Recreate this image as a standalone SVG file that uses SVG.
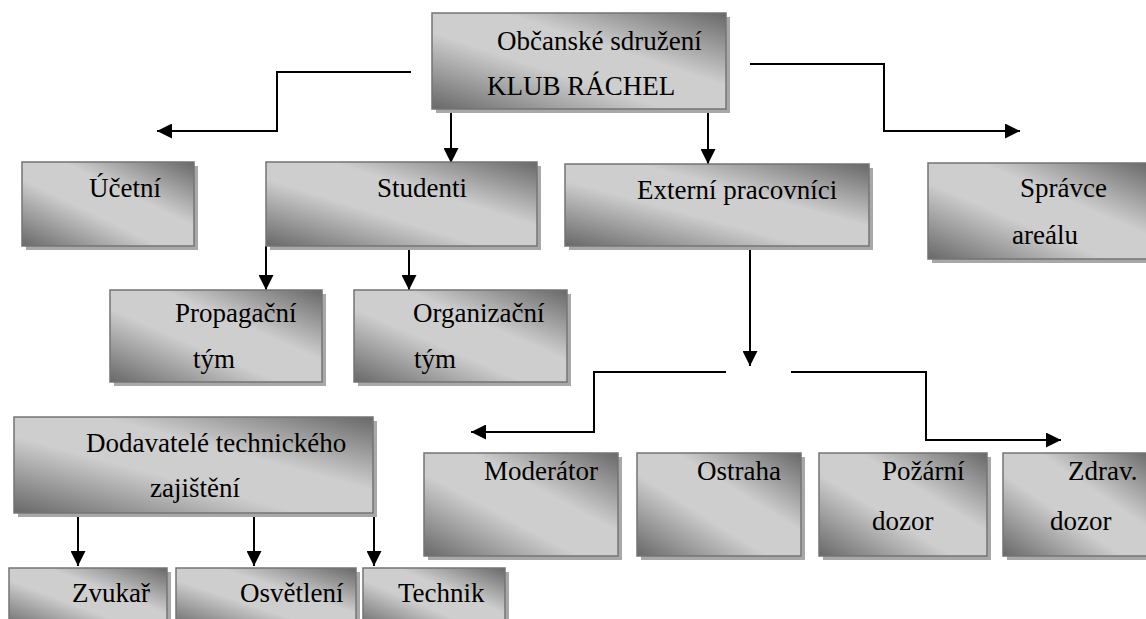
<svg xmlns="http://www.w3.org/2000/svg" width="1146" height="619" viewBox="0 0 1146 619">
  <defs>
    <!-- diagonal metallic fill: dark at top-right and bottom-left corners -->
    <linearGradient id="metal" x1="0" y1="1" x2="1" y2="0">
      <stop offset="0" stop-color="#686868"/>
      <stop offset="0.4" stop-color="#cecece"/>
      <stop offset="0.62" stop-color="#cecece"/>
      <stop offset="1" stop-color="#686868"/>
    </linearGradient>
    <marker id="arrow" viewBox="0 0 15 15" refX="15" refY="7.5" markerWidth="15" markerHeight="15" markerUnits="userSpaceOnUse" orient="auto">
      <path d="M0,0 L15,7.5 L0,15 Z" fill="#000"/>
    </marker>
  </defs>
  <style>
    .shadow { fill: #a8a8a8; }
    .box { fill: url(#metal); stroke: #747474; stroke-width: 1.5; }
    .lbl { font-family: "Liberation Serif", "Times New Roman", serif; font-size: 27px; fill: #000; }
    .conn { fill: none; stroke: #000; stroke-width: 2; }
    .arr { marker-end: url(#arrow); }
  </style>

  <rect width="1146" height="619" fill="#fff"/>

  <!-- connectors -->
  <g id="connectors">
    <path class="conn arr" d="M411,72 H277 V131 H157"/>
    <path class="conn arr" d="M451,110 V163"/>
    <path class="conn arr" d="M708,110 V164"/>
    <path class="conn arr" d="M750,64 H884 V131 H1020"/>
    <path class="conn arr" d="M266,246 V290"/>
    <path class="conn arr" d="M409,246 V290"/>
    <path class="conn arr" d="M750,247 V366"/>
    <path class="conn arr" d="M726,372 H594 V432 H471"/>
    <path class="conn arr" d="M791,372 H926 V440 H1061"/>
    <path class="conn arr" d="M78,513 V566"/>
    <path class="conn arr" d="M254,513 V566"/>
    <path class="conn arr" d="M374,513 V566"/>
  </g>

  <g id="klub-rachel">
    <rect class="shadow" x="436" y="17" width="294" height="96"/>
    <rect class="box" x="432" y="13" width="294" height="96"/>
    <text class="lbl" x="497" y="50">Občanské sdružení</text>
    <text class="lbl" x="487" y="95">KLUB RÁCHEL</text>
  </g>

  <g id="ucetni">
    <rect class="shadow" x="26" y="166" width="172" height="84"/>
    <rect class="box" x="22" y="162" width="172" height="84"/>
    <text class="lbl" x="89" y="197">Účetní</text>
  </g>

  <g id="studenti">
    <rect class="shadow" x="270" y="166" width="271" height="84"/>
    <rect class="box" x="266" y="162" width="271" height="84"/>
    <text class="lbl" x="377" y="197">Studenti</text>
  </g>

  <g id="externi-pracovnici">
    <rect class="shadow" x="569" y="168" width="304" height="82"/>
    <rect class="box" x="565" y="164" width="304" height="82"/>
    <text class="lbl" x="637" y="199">Externí pracovníci</text>
  </g>

  <g id="spravce-arealu">
    <rect class="shadow" x="932" y="167" width="220" height="96"/>
    <rect class="box" x="928" y="163" width="222" height="96"/>
    <text class="lbl" x="1020" y="197">Správce</text>
    <text class="lbl" x="1012" y="244">areálu</text>
  </g>

  <g id="propagacni-tym">
    <rect class="shadow" x="114" y="294" width="212" height="92"/>
    <rect class="box" x="110" y="290" width="212" height="92"/>
    <text class="lbl" x="175" y="322">Propagační</text>
    <text class="lbl" x="193" y="368">tým</text>
  </g>

  <g id="organizacni-tym">
    <rect class="shadow" x="358" y="294" width="213" height="92"/>
    <rect class="box" x="354" y="290" width="213" height="92"/>
    <text class="lbl" x="413" y="322">Organizační</text>
    <text class="lbl" x="414" y="368">tým</text>
  </g>

  <g id="dodavatele">
    <rect class="shadow" x="18" y="421" width="359" height="96"/>
    <rect class="box" x="14" y="417" width="359" height="96"/>
    <text class="lbl" x="86" y="452">Dodavatelé technického</text>
    <text class="lbl" x="150" y="497">zajištění</text>
  </g>

  <g id="moderator">
    <rect class="shadow" x="428" y="457" width="194" height="103"/>
    <rect class="box" x="424" y="453" width="194" height="103"/>
    <text class="lbl" x="484" y="480">Moderátor</text>
  </g>

  <g id="ostraha">
    <rect class="shadow" x="641" y="457" width="164" height="103"/>
    <rect class="box" x="637" y="453" width="164" height="103"/>
    <text class="lbl" x="697" y="480">Ostraha</text>
  </g>

  <g id="pozarni-dozor">
    <rect class="shadow" x="823" y="457" width="168" height="103"/>
    <rect class="box" x="819" y="453" width="168" height="103"/>
    <text class="lbl" x="882" y="480">Požární</text>
    <text class="lbl" x="872" y="530">dozor</text>
  </g>

  <g id="zdrav-dozor">
    <rect class="shadow" x="1007" y="457" width="150" height="103"/>
    <rect class="box" x="1003" y="453" width="150" height="103"/>
    <text class="lbl" x="1068" y="480">Zdrav.</text>
    <text class="lbl" x="1050" y="530">dozor</text>
  </g>

  <g id="zvukar">
    <rect class="shadow" x="13" y="572" width="158" height="60"/>
    <rect class="box" x="9" y="568" width="158" height="60"/>
    <text class="lbl" x="72" y="602">Zvukař</text>
  </g>

  <g id="osvetleni">
    <rect class="shadow" x="180" y="572" width="180" height="60"/>
    <rect class="box" x="176" y="568" width="180" height="60"/>
    <text class="lbl" x="240" y="602">Osvětlení</text>
  </g>

  <g id="technik">
    <rect class="shadow" x="367" y="572" width="142" height="60"/>
    <rect class="box" x="363" y="568" width="142" height="60"/>
    <text class="lbl" x="398" y="602">Technik</text>
  </g>
</svg>
